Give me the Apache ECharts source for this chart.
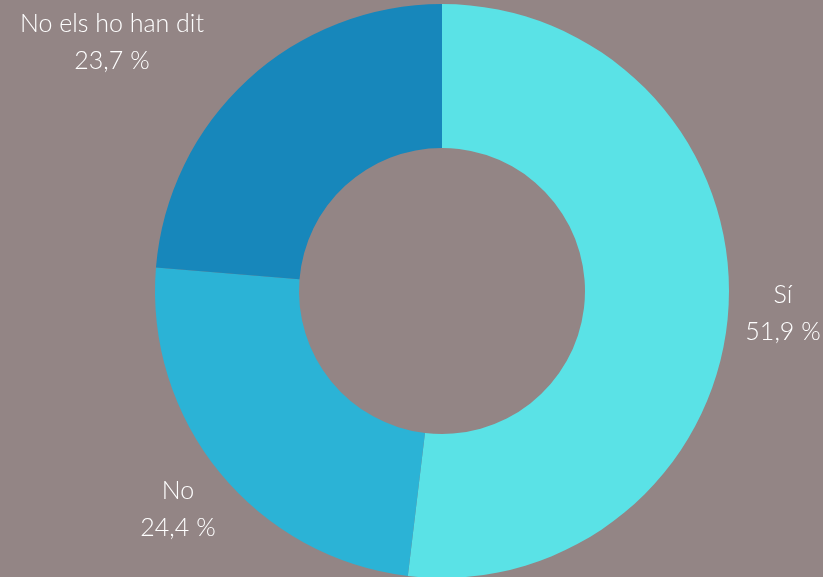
<!DOCTYPE html>
<html>
<head>
<meta charset="utf-8">
<script src="https://cdn.jsdelivr.net/npm/echarts@6/dist/echarts.min.js"></script>
<style>
  html, body { margin: 0; padding: 0; background: #938585; }
  #chart { width: 823px; height: 577px; }
</style>
</head>
<body>
<div id="chart"></div>
<script>
  // respostes
  var categories = ['Sí', 'No', 'No els ho han dit'];
  var percents = [51.9, 24.4, 23.7];
  var colors = ['#5ae2e6', '#2bb3d6', '#1787bb'];

  // where each label sits (centre of text block)
  var labelAnchors = [[783, 313], [178, 509], [112, 42]];

  var data = [];
  for (var i = 0; i < categories.length; i++) {
    data.push({ name: categories[i], value: percents[i], itemStyle: { color: colors[i] } });
  }

  var chart = echarts.init(document.getElementById('chart'));
  var option = {
    backgroundColor: '#938585',
    animation: false,
    series: [
      {
        type: 'pie',
        center: [442, 291],
        radius: [143, 287],
        startAngle: 90,
        clockwise: true,
        data: data,
        itemStyle: { borderWidth: 0 },
        label: {
          show: true,
          position: 'outside',
          color: '#ffffff',
          fontFamily: 'Lato',
          fontWeight: 300,
          fontSize: 25,
          lineHeight: 37,
          align: 'center',
          overflow: 'none',
          width: 240,
          formatter: function (p) {
            return p.name + '\n' + p.value.toFixed(1).replace('.', ',') + ' %';
          }
        },
        edgeDistance: 0,
        labelLine: { show: false },
        labelLayout: function (params) {
          var a = labelAnchors[params.dataIndex];
          return { x: a[0], y: a[1], align: 'center', verticalAlign: 'middle' };
        },
        emphasis: { disabled: true }
      }
    ]
  };
  chart.setOption(option);
</script>
</body>
</html>
